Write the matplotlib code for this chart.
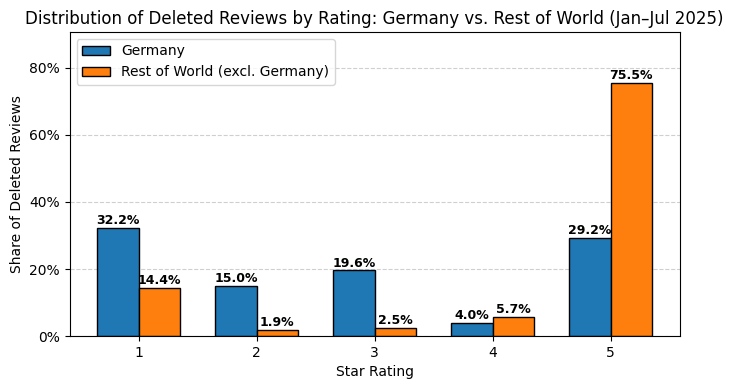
import matplotlib.pyplot as plt
import numpy as np
from matplotlib.ticker import FuncFormatter

ratings = ["1", "2", "3", "4", "5"]
germany = [32.2, 15.0, 19.6, 4.0, 29.2]
rest = [14.4, 1.9, 2.5, 5.7, 75.5]

fig, ax = plt.subplots(figsize=(7.34, 3.9), dpi=100)
x = np.arange(len(ratings))
w = 0.35
b1 = ax.bar(x - w/2, germany, w, label="Germany", color="#1f77b4", edgecolor="black")
b2 = ax.bar(x + w/2, rest, w, label="Rest of World (excl. Germany)", color="#ff7f0e", edgecolor="black")
for bars in (b1, b2):
    for r in bars:
        h = r.get_height()
        ax.text(r.get_x() + r.get_width()/2, h + 0.2, f"{h:.1f}%", ha="center", va="bottom",
                fontsize=9, fontweight="bold")
ax.set_xticks(x)
ax.set_xticklabels(ratings)
ax.set_ylim(0, max(rest) * 1.2)
ax.yaxis.set_major_formatter(FuncFormatter(lambda v, p: f"{v:.0f}%"))
ax.set_xlabel("Star Rating")
ax.set_ylabel("Share of Deleted Reviews")
ax.set_title("Distribution of Deleted Reviews by Rating: Germany vs. Rest of World (Jan–Jul 2025)",
             fontsize=12)
ax.grid(axis="y", linestyle="--", alpha=0.6)
ax.set_axisbelow(True)
ax.legend(loc="upper left")
fig.subplots_adjust(left=0.095, right=0.926, top=0.918, bottom=0.138)
fig.savefig("out.png")
